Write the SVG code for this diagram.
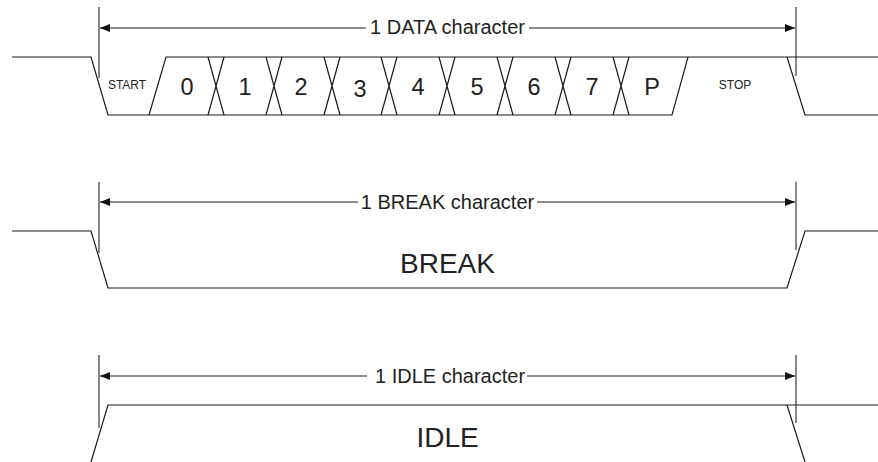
<svg xmlns="http://www.w3.org/2000/svg" width="878" height="462" viewBox="0 0 878 462">
<style>
.sig{fill:none;stroke:#1a1a1a;stroke-width:1.2;stroke-linejoin:miter}
.dim{fill:none;stroke:#666;stroke-width:1.6}
.mark{fill:none;stroke:#555;stroke-width:1.4}
.t{font-family:"Liberation Sans",Arial,sans-serif;fill:#222}
.lbl{font-size:20px}
.bit{font-size:23.5px;text-anchor:middle}
.sm{font-size:12px;text-anchor:middle}
.big{font-size:28px;text-anchor:middle}
</style>
<defs>
<marker id="ah" viewBox="0 0 10 8" refX="10" refY="4" markerWidth="10" markerHeight="8" markerUnits="userSpaceOnUse" orient="auto">
<path d="M0,0 L10,4 L0,8 Z" fill="#111"/>
</marker>
</defs>
<g id="connectors">
<path class="dim" d="M366,28 H100" marker-end="url(#ah)"/>
<path class="dim" d="M529,28 H795" marker-end="url(#ah)"/>
<path class="dim" d="M358,202 H100" marker-end="url(#ah)"/>
<path class="dim" d="M537,202 H795" marker-end="url(#ah)"/>
<path class="dim" d="M367,376 H100" marker-end="url(#ah)"/>
<path class="dim" d="M527,376 H795" marker-end="url(#ah)"/>
</g>
<g id="data-row">
<path class="mark" d="M99,7 V78 M796,7 V76"/>
<path class="sig" d="M12,57 H91 L108,115 H672 L688,57 H878 M787,57 L805,115 H878 M149,115 L166,57 H688"/>
<path class="sig" d="M208,57 L224,115 M224,57 L208,115 M266,57 L282,115 M282,57 L266,115 M324,57 L340,115 M340,57 L324,115 M381,57 L397,115 M397,57 L381,115 M439,57 L455,115 M455,57 L439,115 M497,57 L513,115 M513,57 L497,115 M555,57 L571,115 M571,57 L555,115 M613,57 L629,115 M629,57 L613,115"/>
<text class="t lbl" x="447.5" y="34" text-anchor="middle">1 DATA character</text>
<text class="t sm" x="127" y="89">START</text>
<text class="t sm" x="735" y="89">STOP</text>
<text class="t bit" x="187" y="95">0</text>
<text class="t bit" x="245" y="95">1</text>
<text class="t bit" x="301" y="95">2</text>
<text class="t bit" x="360" y="97">3</text>
<text class="t bit" x="418" y="95">4</text>
<text class="t bit" x="477" y="95">5</text>
<text class="t bit" x="534" y="95">6</text>
<text class="t bit" x="592" y="95">7</text>
<text class="t bit" x="652" y="95">P</text>
</g>
<g id="break-row">
<path class="mark" d="M99,182 V253 M796,182 V250"/>
<path class="sig" d="M12,231 H91 L108,288 H787 L805,231 H878"/>
<text class="t lbl" x="447.5" y="209" text-anchor="middle">1 BREAK character</text>
<text class="t big" x="447.5" y="273">BREAK</text>
</g>
<g id="idle-row">
<path class="mark" d="M99,355 V428 M796,355 V423"/>
<path class="sig" d="M91,462 L108,405 H878 M787,405 L805,462"/>
<text class="t lbl" x="375" y="383">1 IDLE character</text>
<text class="t big" x="447.5" y="447">IDLE</text>
</g>
</svg>
